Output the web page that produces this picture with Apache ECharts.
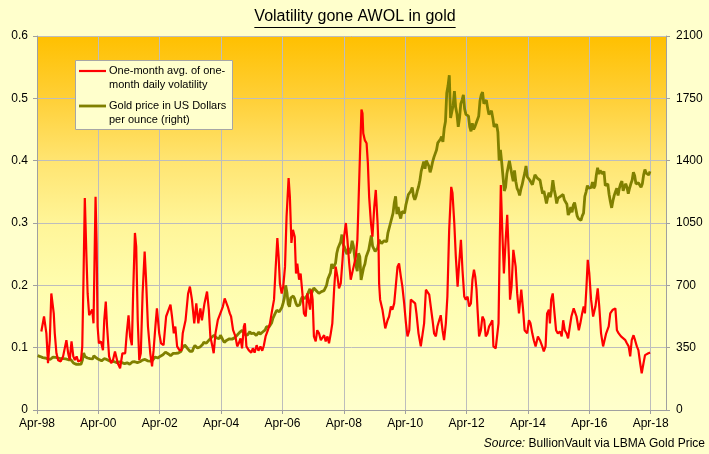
<!DOCTYPE html>
<html>
<head>
<meta charset="utf-8">
<script src="https://cdn.jsdelivr.net/npm/echarts@6/dist/echarts.min.js"></script>
<style>
html,body{margin:0;padding:0;background:#FFFFCC;}
#chart{width:709px;height:454px;}
</style>
</head>
<body>
<div id="chart"></div>
<script>
// ---------------- DATA ----------------
const titleText = 'Volatility gone AWOL in gold';
const xTickLabels = ['Apr-98','Apr-00','Apr-02','Apr-04','Apr-06','Apr-08','Apr-10','Apr-12','Apr-14','Apr-16','Apr-18'];
const seriesNames = ['One-month avg. of one-\nmonth daily volatility', 'Gold price in US Dollars\nper ounce (right)'];

// One-month avg. of one-month daily volatility: [months since Apr-98, value]
const volatility = [
[1.7,.126],[2.75,.150],[3.67,.123],[4.3,.075],[5.0,.112],[5.6,.187],[6.0,.185],[6.55,.155],[6.95,.123],[7.6,.091],[8.26,.080],[9.3,.078],[10.2,.086],[11.5,.112],[12.2,.091],[12.8,.080],[13.5,.110],[14.2,.086],[14.8,.080],[15.5,.086],[16.1,.078],[17.2,.080],[17.7,.102],[18.2,.214],[18.7,.340],[19.3,.251],[19.8,.187],[20.4,.152],[21.1,.150],[21.6,.161],[22.1,.139],[22.9,.342],[23.3,.268],[23.7,.134],[24.2,.107],[25.0,.110],[25.8,.096],[26.3,.144],[26.9,.174],[27.4,.134],[28.2,.086],[29.0,.075],[29.7,.080],[30.5,.094],[31.6,.075],[32.5,.067],[33.4,.091],[34.5,.091],[35.1,.123],[35.8,.152],[36.4,.118],[37.1,.104],[37.6,.187],[38.3,.284],[38.8,.262],[39.4,.144],[40.0,.080],[40.6,.091],[41.3,.187],[42.1,.254],[42.6,.214],[43.4,.134],[44.3,.091],[45.0,.070],[45.6,.096],[46.3,.134],[46.9,.163],[47.8,.123],[48.5,.107],[49.5,.104],[50.5,.150],[51.2,.152],[52.2,.169],[52.8,.150],[53.5,.123],[54.1,.134],[54.8,.102],[55.7,.096],[56.5,.096],[57.0,.123],[58.1,.144],[59.1,.187],[59.8,.198],
[60.6,.177],[61.5,.139],[62.3,.171],[63.1,.139],[63.9,.163],[64.5,.144],[65.5,.171],[66.5,.190],[67.2,.161],[67.8,.118],[68.6,.102],[69.1,.091],[69.8,.123],[70.7,.144],[71.7,.155],[72.7,.166],[73.4,.179],[74.0,.182],[74.6,.166],[75.4,.155],[75.9,.150],[76.7,.128],[77.6,.118],[78.3,.102],[78.9,.107],[79.6,.115],[80.2,.099],[80.9,.134],[81.3,.139],[81.9,.102],[82.8,.096],[83.8,.092],[84.4,.099],[85.1,.092],[85.9,.104],[86.6,.095],[87.4,.102],[88.1,.095],[88.7,.103],[89.4,.118],[90.3,.128],[91.1,.139],[92.0,.161],[92.7,.177],[93.3,.225],[94.0,.276],[94.5,.246],[95.0,.203],[95.7,.187],[96.3,.198],[97.0,.230],[97.6,.310],[98.4,.372],[98.9,.342],[99.5,.268],[100.1,.289],[100.8,.278],[101.3,.219],[101.8,.235],[102.5,.209],[103.1,.219],[103.8,.187],[104.4,.155],[105.1,.150],[105.7,.187],[106.4,.171],[106.8,.161],[107.3,.193],[107.8,.177],[108.3,.118],[109.0,.110],[109.6,.128],[110.3,.123],[111.0,.112],[111.6,.110],[112.3,.120],[112.9,.110],[113.6,.118],[114.2,.107],[114.9,.123],[115.5,.139],[116.2,.193],[116.8,.230],[117.5,.214],[118.1,.195],[118.8,.203],[119.5,.241],[120.1,.278],
[120.8,.300],[121.4,.273],[122.1,.235],[122.7,.209],[123.4,.222],[124.0,.225],[124.7,.246],[125.3,.273],[125.7,.326],[126.3,.407],[126.9,.482],[127.3,.476],[127.6,.444],[128.2,.433],[128.9,.428],[129.4,.396],[129.9,.342],[130.6,.300],[131.2,.278],[131.9,.326],[132.5,.353],[133.2,.300],[133.6,.257],[133.8,.203],[134.2,.177],[135.1,.161],[136.2,.131],[137.1,.144],[137.7,.150],[138.4,.166],[139.0,.161],[139.7,.171],[140.3,.198],[141.0,.230],[141.6,.235],[142.3,.214],[142.9,.198],[143.6,.171],[144.3,.139],[144.9,.118],[145.6,.128],[146.2,.177],[146.9,.174],[147.9,.171],[148.4,.155],[149.2,.123],[150.1,.102],[150.8,.099],[151.4,.139],[152.1,.193],[152.7,.193],[153.4,.185],[154.0,.166],[154.7,.144],[155.3,.123],[156.0,.118],[156.6,.134],[157.3,.144],[157.9,.152],[158.6,.128],[159.2,.112],[159.9,.139],[160.5,.182],[161.2,.289],[162.0,.358],[162.5,.348],[163.2,.300],[163.8,.246],[164.5,.198],[165.1,.235],[165.8,.273],[166.4,.225],[167.1,.182],[167.7,.177],[168.4,.182],[169.0,.166],[169.7,.171],[170.3,.209],[170.9,.225],[171.4,.214],[171.9,.193],[172.3,.161],[172.9,.118],[173.6,.128],[174.2,.150],[174.9,.144],[175.5,.118],[176.2,.123],[176.8,.134],[177.5,.139],[178.1,.144],[178.5,.102],[179.4,.099],[180.1,.096],[180.5,.139],[181.0,.273],
[181.4,.361],[182.0,.284],[182.6,.219],[183.3,.273],[183.9,.313],[184.6,.241],[185.0,.177],[185.6,.198],[186.3,.257],[187.2,.230],[187.8,.187],[188.5,.155],[189.4,.193],[190.1,.161],[190.7,.128],[191.7,.123],[192.4,.144],[193.0,.139],[193.7,.123],[194.3,.112],[195.0,.102],[195.9,.118],[196.7,.112],[197.6,.102],[198.2,.094],[198.9,.102],[199.5,.155],[200.2,.161],[200.6,.139],[201.1,.177],[201.7,.187],[202.4,.155],[203.0,.128],[203.7,.123],[204.5,.126],[205.2,.118],[205.8,.144],[206.4,.128],[207.1,.123],[207.7,.115],[208.4,.134],[209.0,.150],[209.9,.163],[211.0,.150],[211.9,.128],[212.5,.139],[213.2,.155],[213.8,.166],[214.3,.155],[214.9,.198],[215.4,.241],[216.0,.219],[216.7,.177],[217.5,.150],[218.4,.166],[219.3,.195],[219.9,.166],[220.6,.123],[221.4,.102],[222.0,.104],[222.6,.123],[223.6,.134],[224.2,.155],[225.2,.161],[226.2,.163],[226.8,.128],[227.5,.123],[228.4,.118],[229.1,.120],[230.1,.112],[230.7,.107],[231.4,.102],[232.0,.086],[232.6,.112],[233.3,.120],[233.9,.112],[234.6,.102],[235.2,.096],[235.9,.075],[236.5,.059],[237.2,.075],[237.8,.088],[238.5,.086],[239.1,.091],[239.8,.092]
];

// Gold price, US$/oz, two readings per month from first half of Apr-98 to Mar-18
const goldPrice = [
305,310,300,296,294,292,292,290,287,282,285,294,297,292,295,294,292,288,
288,286,288,286,287,282,282,284,283,272,264,261,257,254,256,256,258,280,320,300,295,292,281,288,
284,287,305,295,292,282,283,277,276,273,288,288,284,280,276,274,273,272,271,268,266,267,270,272,
266,265,260,264,265,261,257,262,270,275,271,270,266,267,271,274,280,290,284,280,276,274,274,278,
280,283,298,295,292,296,302,303,310,320,325,318,316,307,305,312,318,323,318,315,320,318,328,345,
353,365,370,348,340,330,328,330,350,362,357,348,347,354,360,368,380,383,375,385,392,395,408,413,
420,410,405,400,400,420,418,392,380,388,392,395,400,392,398,408,405,410,420,425,436,445,448,440,
425,423,420,430,440,428,428,432,422,418,428,438,425,423,438,440,450,468,472,466,468,488,515,510,
545,560,560,552,555,575,600,630,700,660,595,580,630,640,640,625,600,585,575,590,620,635,625,625,
615,645,665,680,650,660,685,680,670,660,655,650,665,675,670,660,700,735,745,770,820,795,800,825,
880,910,910,945,985,930,915,890,875,910,880,905,950,920,860,810,780,880,860,730,740,800,820,860,
850,900,940,980,920,930,890,890,910,955,950,935,925,950,955,945,995,1005,1050,1060,1105,1165,1200,1100,
1140,1100,1075,1115,1125,1105,1150,1160,1210,1200,1230,1250,1200,1180,1200,1230,1255,1290,1340,1345,1395,1355,1400,1385,
1370,1335,1360,1395,1420,1430,1460,1500,1490,1520,1535,1505,1580,1620,1780,1820,1880,1640,1650,1710,1790,1700,1660,1590,
1640,1720,1740,1770,1690,1660,1650,1650,1590,1565,1610,1575,1590,1610,1610,1650,1735,1770,1785,1720,1725,1740,1695,1660,
1670,1680,1640,1590,1580,1605,1560,1400,1460,1390,1380,1230,1250,1325,1320,1400,1360,1320,1285,1345,1285,1245,1230,1205,
1240,1265,1300,1330,1370,1310,1305,1290,1295,1265,1275,1320,1320,1300,1300,1290,1250,1215,1230,1225,1160,1195,1220,1195,
1230,1290,1240,1205,1160,1190,1200,1200,1190,1210,1180,1175,1155,1095,1110,1140,1110,1150,1165,1170,1090,1075,1065,1065,
1090,1105,1200,1225,1260,1245,1245,1250,1280,1245,1260,1320,1360,1325,1345,1345,1325,1340,1260,1265,1270,1210,1170,1135,
1175,1205,1225,1245,1205,1245,1270,1285,1230,1255,1270,1250,1215,1245,1270,1290,1335,1315,1270,1275,1275,1285,1250,1270,
1320,1350,1330,1330,1320,1340
];

// ---------------- CHART ----------------
const FONT = '"Liberation Sans", Arial, sans-serif';
const goldData = goldPrice.map((v, i) => [i / 2 + 0.25, v]);

const chart = echarts.init(document.getElementById('chart'), null, {renderer: 'canvas'});

// measure title width for underline
const cv = document.createElement('canvas').getContext('2d');
cv.font = '16px "Liberation Sans"';
const titleW = cv.measureText(titleText).width;
const titleCx = 355;

const nameLines = seriesNames.map(s => s.split('\n'));

const option = {
  backgroundColor: '#FFFFCC',
  animation: false,
  title: {
    text: titleText,
    left: titleCx - titleW / 2,
    top: 9,
    padding: 0,
    textStyle: {fontFamily: FONT, fontSize: 16, fontWeight: 'normal', color: '#000'}
  },
  grid: {
    left: 37, right: 43, top: 36, bottom: 44,
    show: true, borderWidth: 0,
    backgroundColor: {
      type: 'linear', x: 0, y: 0, x2: 0, y2: 1,
      colorStops: [
        {offset: 0, color: '#FFC000'},
        {offset: 0.17, color: '#FFD038'},
        {offset: 0.33, color: '#FFE470'},
        {offset: 0.5, color: '#FFF598'},
        {offset: 0.67, color: '#FFFDAE'},
        {offset: 0.84, color: '#FFFFBF'},
        {offset: 1, color: '#FFFFCC'}
      ]
    }
  },
  xAxis: {
    type: 'value', min: 0, max: 246, interval: 24,
    axisLine: {show: true, lineStyle: {color: '#A0A0A0', width: 1}},
    axisTick: {show: true, length: 4, lineStyle: {color: '#A0A0A0'}},
    splitLine: {show: true, lineStyle: {color: '#BDBDBD', width: 1}},
    axisLabel: {
      fontFamily: FONT, fontSize: 12, color: '#000', margin: 8,
      showMaxLabel: false,
      formatter: v => (Math.abs(v / 24 - Math.round(v / 24)) < 1e-6 ? xTickLabels[Math.round(v / 24)] : '')
    }
  },
  yAxis: [
    {
      type: 'value', min: 0, max: 0.6, interval: 0.1,
      axisLine: {show: true, lineStyle: {color: '#A0A0A0'}},
      axisTick: {show: true, length: 4, lineStyle: {color: '#A0A0A0'}},
      splitLine: {show: true, lineStyle: {color: '#BDBDBD', width: 1}},
      axisLabel: {fontFamily: FONT, fontSize: 12, color: '#000', margin: 9,
        formatter: v => (Math.round(v * 10) / 10).toString()}
    },
    {
      type: 'value', min: 0, max: 2100, interval: 350, position: 'right',
      axisLine: {show: true, lineStyle: {color: '#A0A0A0'}},
      axisTick: {show: true, length: 4, lineStyle: {color: '#A0A0A0'}},
      splitLine: {show: false},
      axisLabel: {fontFamily: FONT, fontSize: 12, color: '#000', margin: 10,
        formatter: v => String(Math.round(v))}
    }
  ],
  series: [
    {
      name: seriesNames[1], type: 'line', yAxisIndex: 1, data: goldData,
      showSymbol: false, symbol: 'none',
      lineStyle: {color: '#808000', width: 2.8}, itemStyle: {color: '#808000'}
    },
    {
      name: seriesNames[0], type: 'line', yAxisIndex: 0, data: volatility,
      showSymbol: false, symbol: 'none',
      lineStyle: {color: '#FF0000', width: 2.2}, itemStyle: {color: '#FF0000'}
    }
  ],
  graphic: [
    // title underline
    {type: 'line', shape: {x1: titleCx - titleW / 2, y1: 27.5, x2: titleCx + titleW / 2, y2: 27.5},
     style: {stroke: '#000', lineWidth: 1}, silent: true},
    // legend box
    {type: 'rect', shape: {x: 75.5, y: 60.5, width: 157, height: 69},
     style: {fill: '#FFFFCC', stroke: '#A6A6A6', lineWidth: 1}, z: 100},
    {type: 'line', shape: {x1: 79, y1: 71, x2: 106, y2: 71},
     style: {stroke: '#FF0000', lineWidth: 2.2}, z: 101},
    {type: 'text', x: 109, y: 71, z: 101,
     style: {text: nameLines[0][0], fontFamily: FONT, fontSize: 11, fill: '#000', verticalAlign: 'middle'}},
    {type: 'text', x: 109, y: 85, z: 101,
     style: {text: nameLines[0][1], fontFamily: FONT, fontSize: 11, fill: '#000', verticalAlign: 'middle'}},
    {type: 'line', shape: {x1: 79, y1: 106, x2: 106, y2: 106},
     style: {stroke: '#808000', lineWidth: 2.8}, z: 101},
    {type: 'text', x: 109, y: 106, z: 101,
     style: {text: nameLines[1][0], fontFamily: FONT, fontSize: 11, fill: '#000', verticalAlign: 'middle'}},
    {type: 'text', x: 109, y: 120, z: 101,
     style: {text: nameLines[1][1], fontFamily: FONT, fontSize: 11, fill: '#000', verticalAlign: 'middle'}},
    // source
    {type: 'text', x: 705, y: 444, z: 101,
     style: {
       text: '{i|Source:} BullionVault via LBMA Gold Price',
       align: 'right', verticalAlign: 'middle',
       fontFamily: FONT, fontSize: 12, fill: '#000',
       rich: {i: {fontStyle: 'italic', fontFamily: FONT, fontSize: 12, fill: '#000'}}
     }}
  ]
};
chart.setOption(option);
</script>
</body>
</html>
